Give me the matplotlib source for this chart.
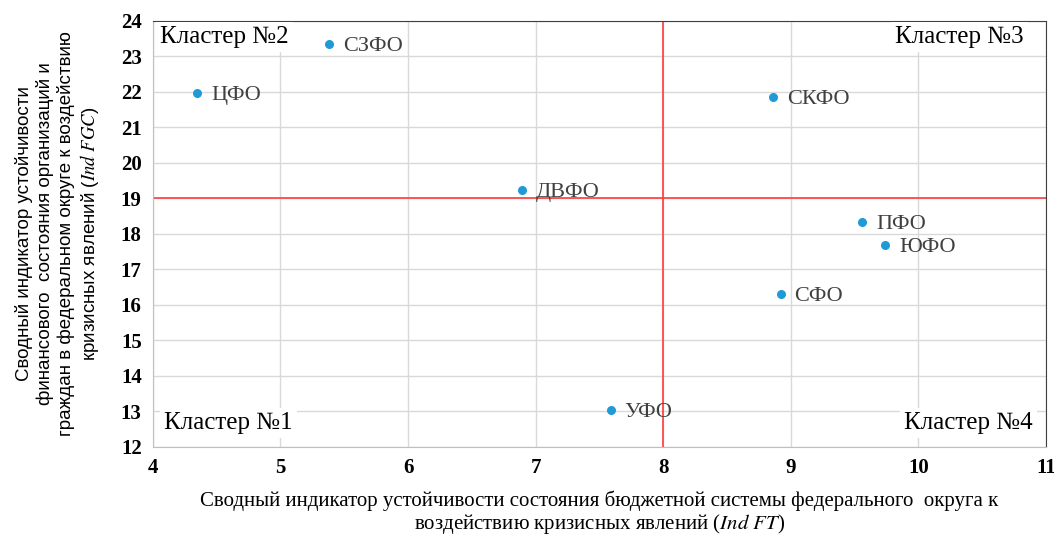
import matplotlib.pyplot as plt

plt.rcParams['font.family'] = ['Liberation Serif', 'DejaVu Serif']
plt.rcParams['mathtext.fontset'] = 'stix'

regions = ['ЦФО', 'СЗФО', 'СКФО', 'ДВФО', 'ПФО', 'ЮФО', 'СФО', 'УФО']
ind_ft = [4.35, 5.38, 8.86, 6.89, 9.56, 9.74, 8.92, 7.59]
ind_fgc = [21.97, 23.35, 21.86, 19.24, 18.34, 17.69, 16.31, 13.04]
x_ticks = [4, 5, 6, 7, 8, 9, 10, 11]
y_ticks = list(range(12, 25))
x_split = 8
y_split = 19

fig = plt.figure(figsize=(10.54, 5.35), dpi=100)
ax = fig.add_axes([0.145, 0.1645, 0.8474, 0.7965])

ax.set_xlim(4, 11)
ax.set_ylim(12, 24)
ax.set_xticks(x_ticks)
ax.set_yticks(y_ticks)
ax.grid(color='#d9d9d9', linewidth=1)
ax.set_axisbelow(True)
ax.tick_params(length=0, labelsize=15, pad=8)
for lab in ax.get_xticklabels() + ax.get_yticklabels():
    lab.set_fontweight('bold')

for s in ['left', 'bottom']:
    ax.spines[s].set_color('#bfbfbf')
for s in ['top', 'right']:
    ax.spines[s].set_color('#404040')

ax.axvline(x_split, color='#ff3c3c', linewidth=1.2, zorder=2)
ax.axhline(y_split, color='#ff3c3c', linewidth=1.2, zorder=2)

ax.scatter(ind_ft, ind_fgc, s=30, color='#1f9ad6', zorder=3)
for name, x, y in zip(regions, ind_ft, ind_fgc):
    ax.annotate(name, (x, y), xytext=(10, -2), textcoords='offset points',
                va='center', ha='left', fontsize=16, color='#404040', zorder=4)

box = dict(facecolor='white', edgecolor='none', pad=3)
ax.text(0.008, 0.988, 'Кластер №2', transform=ax.transAxes, ha='left', va='top',
        fontsize=18, bbox=box, zorder=5)
ax.text(0.975, 0.988, 'Кластер №3', transform=ax.transAxes, ha='right', va='top',
        fontsize=18, bbox=box, zorder=5)
ax.text(0.013, 0.03, 'Кластер №1', transform=ax.transAxes, ha='left', va='bottom',
        fontsize=18, bbox=box, zorder=5)
ax.text(0.985, 0.03, 'Кластер №4', transform=ax.transAxes, ha='right', va='bottom',
        fontsize=18, bbox=box, zorder=5)

ax.set_xlabel('Сводный индикатор устойчивости состояния бюджетной системы федерального  округа к\n'
              'воздействию кризисных явлений ($\\mathit{Ind\\ FT}$)',
              fontsize=15, labelpad=9, linespacing=1.05)
ax.set_ylabel('Сводный индикатор устойчивости\n'
              'финансового  состояния организаций и\n'
              'граждан в федеральном округе к воздействию\n'
              'кризисных явлений ($\\mathit{Ind\\ FGC}$)',
              fontsize=13.5, family=['Liberation Sans', 'DejaVu Sans'],
              labelpad=14, linespacing=1.2)

fig.savefig('out.png', dpi=100)
